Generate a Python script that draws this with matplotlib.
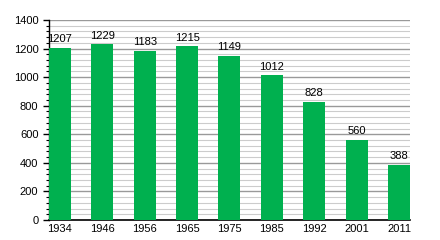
import matplotlib.pyplot as plt
from matplotlib.ticker import MultipleLocator

years = ["1934", "1946", "1956", "1965", "1975", "1985", "1992", "2001", "2011"]
population = [1207, 1229, 1183, 1215, 1149, 1012, 828, 560, 388]

plt.rcParams['font.family'] = ['Liberation Sans', 'DejaVu Sans']

fig = plt.figure(figsize=(4.4, 2.4), dpi=100)
ax = fig.add_axes([0.111, 0.083, 0.821, 0.834])

width = 0.52
x = range(len(years))
ax.bar(x, population, width=width, color='#00b04f', zorder=3)
for xi, v in zip(x, population):
    ax.text(xi, v + 25, str(v), ha='center', va='bottom', fontsize=8, zorder=4)

ax.set_xlim(-width / 2, len(years) - 1 + width / 2)
ax.set_ylim(0, 1400)
ax.set_xticks(list(x))
ax.set_xticklabels(years, fontsize=8)
ax.yaxis.set_major_locator(MultipleLocator(200))
ax.yaxis.set_minor_locator(MultipleLocator(40))
ax.tick_params(axis='y', labelsize=8, length=4, width=1)
ax.tick_params(axis='y', which='minor', length=2, width=0.8)
ax.tick_params(axis='x', length=0, pad=3)

ax.grid(axis='y', which='major', color='#999999', linewidth=1, zorder=0)
ax.grid(axis='y', which='minor', color='#cccccc', linewidth=0.8, zorder=0)

for s in ['top', 'right']:
    ax.spines[s].set_visible(False)
ax.spines['left'].set_linewidth(1)
ax.spines['bottom'].set_linewidth(1.2)

fig.savefig('out.png', dpi=100)
